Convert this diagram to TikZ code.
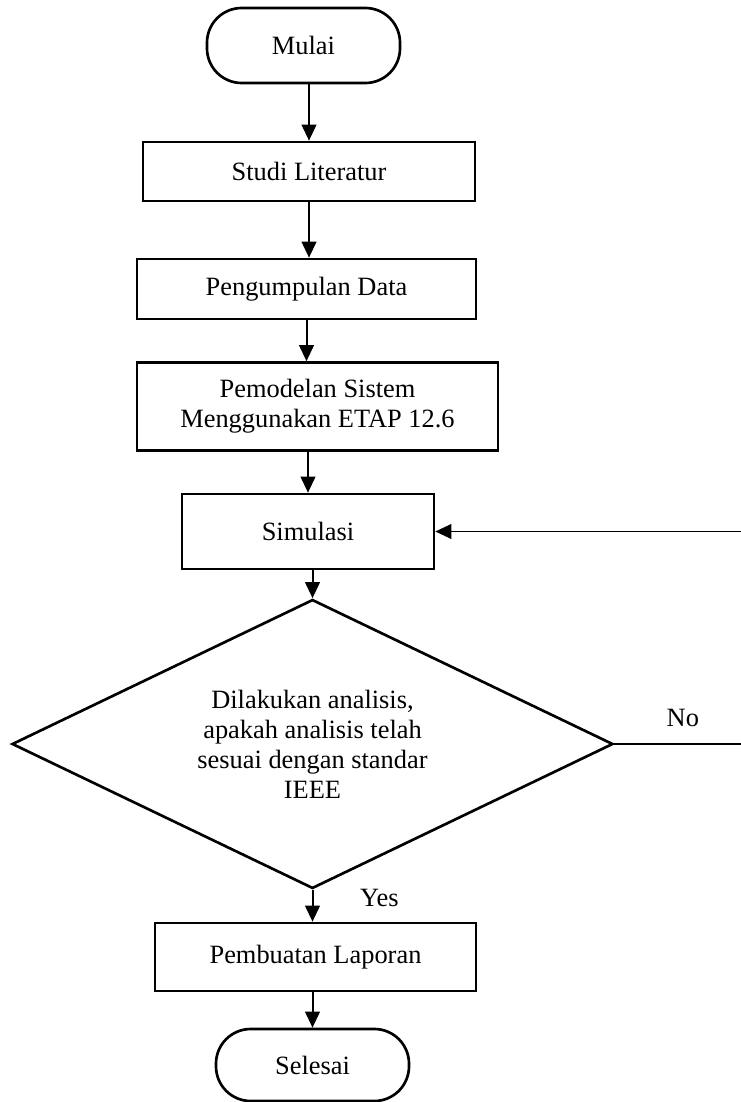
\documentclass[tikz,border=0pt]{standalone}
\usepackage{fontspec}
\setmainfont{Liberation Serif}
\usetikzlibrary{shapes.geometric,arrows.meta}

\begin{document}
\begin{tikzpicture}[x=0.75pt,y=0.75pt,yscale=-1,xscale=1,
  font=\fontsize{19.8}{22.5}\selectfont,
  proses/.style={draw,line width=2pt,rectangle,align=center,inner sep=0pt},
  terminal/.style={proses,rounded corners=26pt},
  keputusan/.style={draw,line width=2pt,diamond,aspect=2.08,align=center,inner sep=0pt},
  panah/.style={line width=1.5pt,-{Triangle[length=12pt,width=11pt]}}]
\useasboundingbox (0,0) rectangle (740,1102);

%Flowchart: Terminator
\node[terminal,minimum width=144.75pt,minimum height=56.25pt] (mulai) at (303.5,45.5) {Mulai};
%Flowchart: Process
\node[proses,minimum width=249pt,minimum height=44.25pt] (studi) at (309,171.5) {Studi Literatur};
\node[proses,minimum width=254.25pt,minimum height=45pt] (data) at (306.5,289) {Pengumpulan Data};
\node[proses,minimum width=270.75pt,minimum height=66pt] (model) at (317.5,406.5) {Pemodelan Sistem\\Menggunakan ETAP 12.6};
\node[proses,minimum width=189pt,minimum height=56.25pt] (simulasi) at (308,531.5) {Simulasi};
%Flowchart: Decision
\node[keputusan,minimum width=450.75pt,minimum height=216.75pt] (cek) at (312.5,744) {Dilakukan analisis,\\apakah analisis telah\\sesuai dengan standar\\IEEE};
%Flowchart: Process
\node[proses,minimum width=240.75pt,minimum height=51pt] (laporan) at (315.5,957) {Pembuatan Laporan};
%Flowchart: Terminator
\node[terminal,minimum width=144.75pt,minimum height=54pt] (selesai) at (312.5,1065) {Selesai};

%Straight Lines
\draw[panah] (mulai.south -| studi) -- (studi.north);
\draw[panah] (studi.south) -- (studi.south |- data.north);
\draw[panah] (data.south) -- (data.south |- model.north);
\draw[panah] (model.south -| simulasi) -- (simulasi.north);
\draw[panah] (simulasi.south -| cek) -- (cek.north);
\draw[panah] (cek.south) -- node[pos=0.25,right=35pt,inner sep=0pt] {Yes} (cek.south |- laporan.north);
\draw[panah] (laporan.south -| selesai) -- (selesai.north);
%Straight Lines (loop back)
\draw[panah,line width=1.2pt] (cek.east) -- node[above=12pt,inner sep=0pt] {No} ++(137,0) |- (simulasi.east);
\end{tikzpicture}
\end{document}
